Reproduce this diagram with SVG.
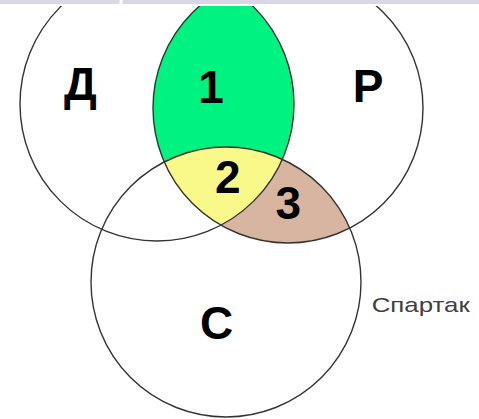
<svg xmlns="http://www.w3.org/2000/svg" width="479" height="419" viewBox="0 0 479 419">
  <style>
    .ring { fill: none; stroke: #333333; stroke-width: 1.4; }
    .big { font-family: "Liberation Sans", Arial, sans-serif; font-weight: bold; font-size: 46px; fill: #000000; text-anchor: middle; }
    .note { font-family: "Liberation Sans", Arial, sans-serif; font-size: 21px; fill: #404040; }
    .bar { fill: #d9d7e4; }
  </style>
  <defs>
    <clipPath id="view">
      <rect x="0" y="6" width="479" height="413"/>
    </clipPath>
  </defs>
  <rect x="0" y="0" width="479" height="419" fill="#ffffff"/>
  <rect class="bar" x="0" y="0" width="119.5" height="4"/>
  <rect class="bar" x="122.7" y="0" width="356.3" height="4"/>
  <g clip-path="url(#view)">
    <g id="region-1">
      <path d="M228.2,-13.1 A135,135 0 0 0 164.24,161.95 A135,135 0 0 1 282.3,159.3 A137,137 0 0 0 228.2,-13.1 Z" fill="#00f380"/>
    </g>
    <g id="region-2">
      <path d="M164.24,161.95 A135,135 0 0 1 282.3,159.3 A137,137 0 0 1 220.9,225.2 A135,135 0 0 1 164.24,161.95 Z" fill="#f9f98a"/>
    </g>
    <g id="region-3">
      <path d="M282.3,159.3 A137,137 0 0 1 220.9,225.2 A135,135 0 0 0 349.76,228.05 A135,135 0 0 0 282.3,159.3 Z" fill="#d8b5a1"/>
    </g>
    <g id="circle-D">
      <circle class="ring" cx="157" cy="104" r="137"/>
      <text class="big" x="80.5" y="100">Д</text>
    </g>
    <g id="circle-P">
      <circle class="ring" cx="288" cy="108" r="135"/>
      <text class="big" x="368" y="101.7">Р</text>
    </g>
    <g id="circle-C">
      <circle class="ring" cx="226" cy="282" r="135"/>
      <text class="big" x="216.7" y="339.3">С</text>
    </g>
    <g id="labels">
      <text class="big" x="211" y="102.7">1</text>
      <text class="big" x="227.7" y="192.5">2</text>
      <text class="big" x="288.3" y="219.3">3</text>
    </g>
    <g id="caption">
      <text class="note" x="371.7" y="312" textLength="98" lengthAdjust="spacingAndGlyphs">Спартак</text>
    </g>
  </g>
  <g id="connectors"/>
</svg>
